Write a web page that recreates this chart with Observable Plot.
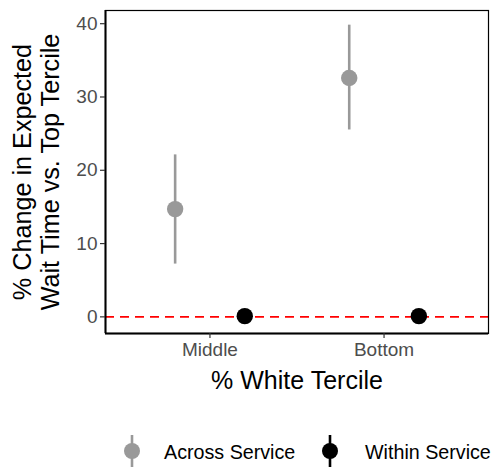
<!DOCTYPE html>
<html>
<head>
<meta charset="utf-8">
<script src="https://cdn.jsdelivr.net/npm/d3@7"></script>
<script src="https://cdn.jsdelivr.net/npm/@observablehq/plot@0.6"></script>
<style>
  body { margin: 0; background: #fff; font-family: "Liberation Sans", Arial, sans-serif; }
  #legend { position: relative; width: 498px; height: 72px; }
  .glyph { position: absolute; top: 35px; }
  .label { position: absolute; top: 40px; font-size: 19.7px; line-height: 24px; color: #000; white-space: nowrap; }
</style>
</head>
<body>
<div id="chart"></div>
<div id="legend"></div>
<script>
const categories = ["Middle", "Bottom"];
const seriesNames = ["Across Service", "Within Service"];
const seriesColors = ["#999999", "#000000"];
const estimate = { "Across Service": [14.7, 32.6], "Within Service": [0.1, 0.1] };
const lower    = { "Across Service": [7.2, 25.5],  "Within Service": [-0.2, -0.2] };
const upper    = { "Across Service": [22.1, 39.8], "Within Service": [0.4, 0.4] };
const yTicks = [0, 10, 20, 30, 40];
const dodge = 0.2;

const rows = [];
seriesNames.forEach((s, si) => {
  categories.forEach((c, ci) => {
    rows.push({
      series: s,
      category: c,
      x: ci + 1 + (si === 0 ? -dodge : dodge),
      y: estimate[s][ci],
      lo: lower[s][ci],
      hi: upper[s][ci]
    });
  });
});

const color = { domain: seriesNames, range: seriesColors };

const plot = Plot.plot({
  width: 498,
  height: 400,
  marginLeft: 105,
  marginRight: 10,
  marginTop: 10,
  marginBottom: 67,
  style: { fontFamily: "Liberation Sans, Arial, sans-serif", background: "#fff", overflow: "visible" },
  x: { type: "linear", domain: [0.4, 2.6], axis: null },
  y: { domain: [-2.27, 41.8], axis: null },
  color: color,
  marks: [
    Plot.ruleY([0], { stroke: "red", strokeWidth: 1.6, strokeDasharray: "9,6" }),
    Plot.ruleX(rows, { x: "x", y1: "lo", y2: "hi", stroke: "series", strokeWidth: 2.6 }),
    Plot.dot(rows, { x: "x", y: "y", fill: "series", r: 8.2 }),
    Plot.frame({ stroke: "#000", strokeWidth: 1.2 }),
    Plot.ruleX([0.4], { stroke: "#000", strokeWidth: 2 }),
    Plot.ruleY([-2.27], { stroke: "#000", strokeWidth: 2 }),
    Plot.axisY(yTicks, {
      tickSize: 5, tickPadding: 3, fontSize: 19, color: "#4d4d4d", stroke: "#333",
      strokeWidth: 1.2, label: null
    }),
    Plot.axisX([1, 2], {
      tickSize: 5, tickPadding: 4, fontSize: 19, color: "#4d4d4d", stroke: "#333",
      strokeWidth: 1.2, tickFormat: d => categories[d - 1], label: null
    }),
    Plot.text(["% White Tercile"], {
      frameAnchor: "bottom", dy: 47, fontSize: 25, fill: "#000",
      textAnchor: "middle", lineAnchor: "middle"
    }),
    Plot.text(["% Change in Expected\nWait Time vs. Top Tercile"], {
      frameAnchor: "left", dx: -69, rotate: -90, fontSize: 25.2, fill: "#000",
      textAnchor: "middle", lineAnchor: "middle", lineHeight: 1.11
    })
  ]
});
document.getElementById("chart").appendChild(plot);

// Legend
const legend = d3.select("#legend");
const glyphLeft = [118, 316];
const labelLeft = [164, 365];
seriesNames.forEach((s, i) => {
  const svg = legend.append("svg").attr("class", "glyph")
    .style("left", glyphLeft[i] + "px").attr("width", 28).attr("height", 32);
  svg.append("line").attr("x1", 14).attr("x2", 14).attr("y1", 0).attr("y2", 32)
    .attr("stroke", seriesColors[i]).attr("stroke-width", 2.6);
  svg.append("circle").attr("cx", 14).attr("cy", 16).attr("r", 8).attr("fill", seriesColors[i]);
  legend.append("div").attr("class", "label").style("left", labelLeft[i] + "px").text(s);
});
</script>
</body>
</html>
